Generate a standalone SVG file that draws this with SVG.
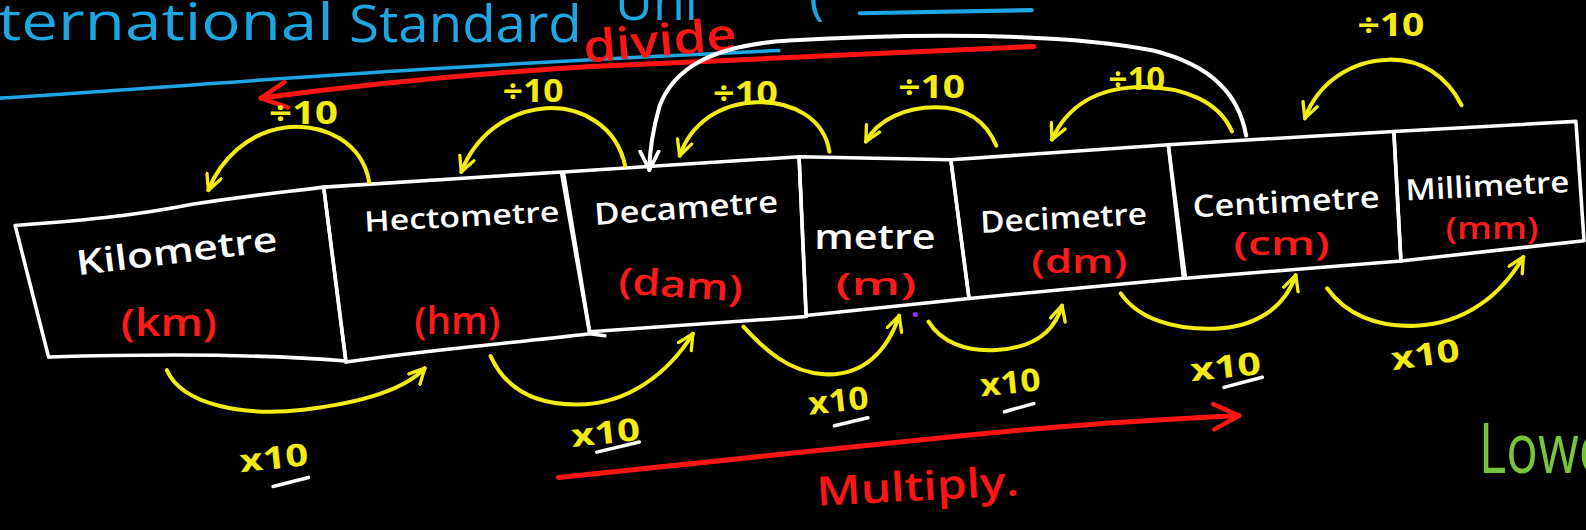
<svg xmlns="http://www.w3.org/2000/svg" width="1586" height="530" viewBox="0 0 1586 530">
  <style>
    .box { fill: none; stroke: #ffffff; stroke-width: 3.5; stroke-linejoin: round; stroke-linecap: round; }
    .name { fill: #ffffff; font-family: "Open Sans", "Liberation Sans", sans-serif; font-weight: 600; }
    .abbr { fill: #ff1a1a; font-family: "Open Sans", "Liberation Sans", sans-serif; font-weight: 600; }
    .ylw { fill: none; stroke: #f2ec12; stroke-width: 4; stroke-linecap: round; }
    .ylab { fill: #f2ec12; font-family: "Open Sans", "Liberation Sans", sans-serif; font-weight: 700; font-size: 31px; }
    .uline { stroke: #ffffff; stroke-width: 3.5; stroke-linecap: round; }
    .blue { fill: #1da6e2; font-family: "Open Sans", "Liberation Sans", sans-serif; font-size: 50px; }
    .red { fill: none; stroke: #ff1414; stroke-width: 5; stroke-linecap: round; }
  </style>
  <defs>
    <marker id="headY" viewBox="0 0 12 12" refX="11" refY="6" markerWidth="18" markerHeight="18" markerUnits="userSpaceOnUse" orient="auto">
      <path d="M1,1 L11,6 L1,11" fill="none" stroke="#f2ec12" stroke-width="2.2" stroke-linecap="round" stroke-linejoin="round"/>
    </marker>
    <marker id="headW" viewBox="0 0 12 12" refX="11" refY="6" markerWidth="22" markerHeight="22" markerUnits="userSpaceOnUse" orient="auto">
      <path d="M1,1 L11,6 L1,11" fill="none" stroke="#ffffff" stroke-width="2" stroke-linecap="round" stroke-linejoin="round"/>
    </marker>
    <marker id="headR" viewBox="0 0 12 12" refX="11" refY="6" markerWidth="30" markerHeight="30" markerUnits="userSpaceOnUse" orient="auto">
      <path d="M1,1 L11,6 L1,11" fill="none" stroke="#ff1414" stroke-width="1.8" stroke-linecap="round" stroke-linejoin="round"/>
    </marker>
  </defs>
  <rect width="1586" height="530" fill="#000000"/>

  <g transform="scale(1.0115)">
    <!-- heading -->
    <g id="heading">
      <text class="blue" x="-2" y="40" textLength="332" lengthAdjust="spacingAndGlyphs">ternational</text>
      <text class="blue" x="345" y="42" textLength="230" lengthAdjust="spacingAndGlyphs">Standard</text>
      <text class="blue" x="608" y="20" textLength="82" lengthAdjust="spacingAndGlyphs">Uni</text>
      <text class="blue" x="800" y="14">(</text>
      <path d="M850,13 L1020,10" stroke="#1da6e2" stroke-width="4" stroke-linecap="round"/>
      <path d="M0,97 C150,88 400,66 770,50" fill="none" stroke="#1da6e2" stroke-width="3.5" stroke-linecap="round"/>
    </g>

    <!-- unit boxes -->
    <g id="km">
      <path class="box" d="M15,223 C80,218 130,214 190,202 C240,194 280,190 320,185 L342,357 C260,350 150,350 48,353 Z"/>
      <text class="name" font-size="34" transform="translate(176,260) rotate(-7)" text-anchor="middle" textLength="200" lengthAdjust="spacingAndGlyphs">Kilometre</text>
      <text class="abbr" font-size="38" x="167" y="332" text-anchor="middle" textLength="95" lengthAdjust="spacingAndGlyphs">(km)</text>
    </g>
    <g id="hm">
      <path class="box" d="M320,185 L555,170 L583,330 C500,340 420,346 342,358 Z"/>
      <path class="box" d="M583,330 L598,332"/>
      <text class="name" font-size="28" transform="translate(457,224) rotate(-3)" text-anchor="middle" textLength="193" lengthAdjust="spacingAndGlyphs">Hectometre</text>
      <text class="abbr" font-size="38" x="452" y="330" text-anchor="middle" textLength="85" lengthAdjust="spacingAndGlyphs">(hm)</text>
    </g>
    <g id="dam">
      <path class="box" d="M557,170 L790,155 L797,313 L583,328 Z"/>
      <text class="name" font-size="30" transform="translate(679,216) rotate(-4)" text-anchor="middle" textLength="182" lengthAdjust="spacingAndGlyphs">Decametre</text>
      <text class="abbr" font-size="36" transform="translate(672,294) rotate(4)" text-anchor="middle" textLength="123" lengthAdjust="spacingAndGlyphs">(dam)</text>
    </g>
    <g id="m">
      <path class="box" d="M790,155 L940,158 L958,295 L797,312 Z"/>
      <text class="name" font-size="34" x="865" y="246" text-anchor="middle" textLength="120" lengthAdjust="spacingAndGlyphs">metre</text>
      <text class="abbr" font-size="30" x="866" y="292" text-anchor="middle" textLength="80" lengthAdjust="spacingAndGlyphs">(m)</text>
    </g>
    <g id="dm">
      <path class="box" d="M940,158 L1155,143 L1170,275 L958,295 Z"/>
      <text class="name" font-size="30" transform="translate(1052,226) rotate(-3)" text-anchor="middle" textLength="165" lengthAdjust="spacingAndGlyphs">Decimetre</text>
      <text class="abbr" font-size="32" x="1067" y="270" text-anchor="middle" textLength="95" lengthAdjust="spacingAndGlyphs">(dm)</text>
    </g>
    <g id="cm">
      <path class="box" d="M1155,143 L1378,130 L1385,258 L1172,275 Z"/>
      <text class="name" font-size="30" transform="translate(1272,210) rotate(-3)" text-anchor="middle" textLength="185" lengthAdjust="spacingAndGlyphs">Centimetre</text>
      <text class="abbr" font-size="32" x="1267" y="252" text-anchor="middle" textLength="95" lengthAdjust="spacingAndGlyphs">(cm)</text>
    </g>
    <g id="mm">
      <path class="box" d="M1378,130 L1558,120 L1566,238 L1385,258 Z"/>
      <text class="name" font-size="29" transform="translate(1471,194) rotate(-3)" text-anchor="middle" textLength="162" lengthAdjust="spacingAndGlyphs">Millimetre</text>
      <text class="abbr" font-size="30" x="1475" y="236" text-anchor="middle" textLength="92" lengthAdjust="spacingAndGlyphs">(mm)</text>
    </g>

    <!-- connectors -->
    <g id="connectors">
      <!-- divide direction -->
      <path class="red" d="M1022,46 C880,52 720,60 580,66 C450,74 340,86 258,97" marker-end="url(#headR)"/>
      <text fill="#ff1414" font-family="Open Sans, Liberation Sans, sans-serif" font-weight="600" font-size="44" transform="translate(578,62) rotate(-5)" textLength="152" lengthAdjust="spacingAndGlyphs">divide</text>

      <!-- large jump arrow -->
      <path d="M1232,134 C1225,95 1200,65 1140,50 C1050,32 900,33 780,40 C700,45 665,70 652,105 C645,130 642,150 642,168" fill="none" stroke="#ffffff" stroke-width="4" stroke-linecap="round" marker-end="url(#headW)"/>

      <!-- ÷10 steps -->
      <path class="ylw" d="M365,180 C358,140 320,122 282,126 C245,131 218,158 206,188" marker-end="url(#headY)"/>
      <path class="ylw" d="M618,164 C610,125 575,105 540,107 C500,110 470,135 456,170" marker-end="url(#headY)"/>
      <path class="ylw" d="M820,150 C815,118 785,100 748,101 C712,102 683,122 672,154" marker-end="url(#headY)"/>
      <path class="ylw" d="M985,144 C975,120 955,106 925,106 C895,106 868,118 856,140" marker-end="url(#headY)"/>
      <path class="ylw" d="M1218,130 C1205,100 1170,86 1130,86 C1085,86 1055,105 1040,138" marker-end="url(#headY)"/>
      <path class="ylw" d="M1445,104 C1430,75 1405,58 1373,59 C1335,60 1303,82 1290,117" marker-end="url(#headY)"/>

      <text class="ylab" x="266" y="123" textLength="68" lengthAdjust="spacingAndGlyphs">÷10</text>
      <text class="ylab" x="497" y="101" textLength="60" lengthAdjust="spacingAndGlyphs">÷10</text>
      <text class="ylab" x="705" y="103" textLength="64" lengthAdjust="spacingAndGlyphs">÷10</text>
      <text class="ylab" x="888" y="97" textLength="66" lengthAdjust="spacingAndGlyphs">÷10</text>
      <text class="ylab" x="1096" y="89" textLength="56" lengthAdjust="spacingAndGlyphs">÷10</text>
      <text class="ylab" x="1342" y="36" textLength="66" lengthAdjust="spacingAndGlyphs">÷10</text>

      <!-- ×10 steps -->
      <path class="ylw" d="M165,366 C180,400 240,412 300,405 C360,398 400,385 420,364" marker-end="url(#headY)"/>
      <path class="ylw" d="M485,352 C500,385 530,400 570,400 C620,400 660,370 685,330" marker-end="url(#headY)"/>
      <path class="ylw" d="M735,323 C755,345 780,368 815,370 C855,372 878,345 889,312" marker-end="url(#headY)"/>
      <path class="ylw" d="M918,318 C930,338 955,348 985,346 C1020,344 1042,330 1050,302" marker-end="url(#headY)"/>
      <path class="ylw" d="M1108,290 C1125,315 1160,326 1200,325 C1240,324 1270,305 1281,272" marker-end="url(#headY)"/>
      <path class="ylw" d="M1312,285 C1330,310 1360,324 1400,322 C1450,320 1485,290 1506,254" marker-end="url(#headY)"/>

      <text class="ylab" font-size="36" transform="translate(238,467) rotate(-6)" textLength="68" lengthAdjust="spacingAndGlyphs">x10</text>
      <text class="ylab" font-size="34" transform="translate(566,442) rotate(-6)" textLength="68" lengthAdjust="spacingAndGlyphs">x10</text>
      <text class="ylab" transform="translate(800,410) rotate(-6)" textLength="60" lengthAdjust="spacingAndGlyphs">x10</text>
      <text class="ylab" transform="translate(970,392) rotate(-6)" textLength="60" lengthAdjust="spacingAndGlyphs">x10</text>
      <text class="ylab" font-size="34" transform="translate(1178,377) rotate(-6)" textLength="70" lengthAdjust="spacingAndGlyphs">x10</text>
      <text class="ylab" transform="translate(1377,366) rotate(-8)" textLength="68" lengthAdjust="spacingAndGlyphs">x10</text>

      <path class="uline" d="M270,481 L305,472"/>
      <path class="uline" d="M590,447 L632,437"/>
      <path class="uline" d="M825,421 L858,413"/>
      <path class="uline" d="M993,407 L1022,399"/>
      <path class="uline" d="M1210,383 L1248,373"/>

      <!-- multiply direction -->
      <path class="red" d="M552,472 C700,458 850,440 1000,426 C1080,419 1150,414 1225,411" marker-end="url(#headR)"/>
      <text fill="#ff1414" font-family="Open Sans, Liberation Sans, sans-serif" font-weight="600" font-size="40" transform="translate(808,500) rotate(-3)" textLength="200" lengthAdjust="spacingAndGlyphs">Multiply.</text>
    </g>

    <circle cx="905" cy="311" r="2.5" fill="#9b30ff"/>
    <text fill="#78c43c" font-family="Open Sans, Liberation Sans, sans-serif" font-size="68" x="1462" y="468" textLength="128" lengthAdjust="spacingAndGlyphs">Lowe</text>
  </g>
</svg>
